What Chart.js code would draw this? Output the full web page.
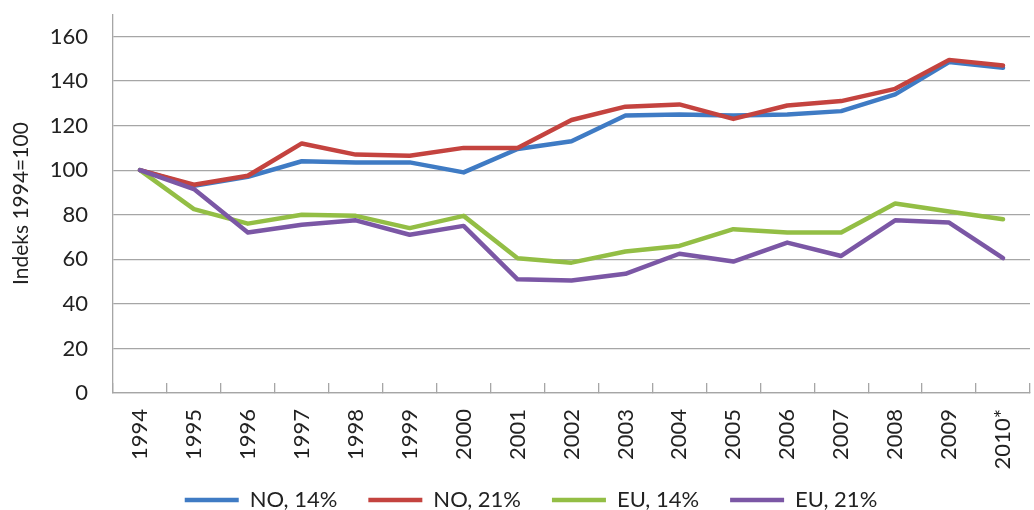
<!DOCTYPE html>
<html>
<head>
<meta charset="utf-8">
<script src="https://cdn.jsdelivr.net/npm/chart.js@4.4.1/dist/chart.umd.min.js"></script>
<style>
  html, body { margin: 0; padding: 0; background: #fff; }
  #wrap { width: 1034px; height: 510px; }
</style>
</head>
<body>
<div id="wrap"><canvas id="chart" width="1034" height="510"></canvas></div>
<script>
// categories and series (index, 1994 = 100)
const years = ["1994", "1995", "1996", "1997", "1998", "1999", "2000", "2001", "2002",
  "2003", "2004", "2005", "2006", "2007", "2008", "2009", "2010*"];
const no14 = [100, 93, 97, 104, 103.5, 103.5, 99, 109.5, 113, 124.5, 125, 124.5, 125, 126.5, 134, 148.5, 146];
const no21 = [100, 93.5, 97.5, 112, 107, 106.5, 110, 110, 122.5, 128.5, 129.5, 123, 129, 131, 136.5, 149.5, 147];
const eu14 = [100, 82.5, 76, 80, 79.5, 74, 79.5, 60.5, 58.5, 63.5, 66, 73.5, 72, 72, 85, 81.5, 78];
const eu21 = [100, 91.5, 72, 75.5, 77.5, 71, 75, 51, 50.5, 53.5, 62.5, 59, 67.5, 61.5, 77.5, 76.5, 60.5];
const seriesNames = ["NO, 14%", "NO, 21%", "EU, 14%", "EU, 21%"];
const seriesColors = ["#3f7bc4", "#c4433f", "#93be45", "#7b57a5"];
const yTicks = [0, 20, 40, 60, 80, 100, 120, 140, 160];

const FONT = "Lato, 'Open Sans', sans-serif";
const TEXT = "#222";
const GRID = "#a6a6a6";

const allSeries = [no14, no21, eu14, eu21];

const datasets = allSeries.map((values, i) => ({
  label: seriesNames[i],
  data: values,
  borderColor: seriesColors[i],
  backgroundColor: seriesColors[i],
  borderWidth: 4.5,
  pointRadius: 0,
  tension: 0,
  fill: false,
  order: allSeries.length - i, // later series drawn on top, like the original
  borderCapStyle: "round",
  borderJoinStyle: "round"
}));

// x labels hang past the axis box into the legend gap, so widen the clip area;
// also nudge the legend a bit right like in the original
const layoutTweaks = {
  id: "layoutTweaks",
  afterLayout(chart) {
    chart.scales.x.bottom = chart.height;
    chart.legend.left += 16;
    chart.legend.right += 16;
  }
};

new Chart(document.getElementById("chart"), {
  type: "line",
  data: { labels: years, datasets: datasets },
  plugins: [layoutTweaks],
  options: {
    responsive: false,
    animation: false,
    events: [],
    layout: { padding: { top: 14, right: 4, left: 0, bottom: -11 } },
    plugins: {
      tooltip: { enabled: false },
      legend: {
        position: "bottom",
        labels: {
          usePointStyle: true,
          pointStyle: "line",
          pointStyleWidth: 54,
          padding: 31,
          color: TEXT,
          font: { family: FONT, size: 22 },
          sort: (a, b) => a.datasetIndex - b.datasetIndex
        }
      }
    },
    scales: {
      x: {
        offset: true,
        grid: {
          offset: true,
          drawOnChartArea: false,
          drawTicks: true,
          tickLength: -10, // tick marks point up into the plot
          color: GRID,
          lineWidth: 1.3
        },
        border: { color: GRID, width: 1.3 },
        ticks: {
          minRotation: 90,
          maxRotation: 90,
          autoSkip: false,
          padding: 26,
          color: TEXT,
          font: { family: FONT, size: 22 }
        },
        afterFit: (scale) => {
          scale.height = 65;
          scale.paddingLeft = 0;
          scale.paddingRight = 0;
        }
      },
      y: {
        min: 0,
        max: 170,
        afterBuildTicks: (scale) => {
          scale.ticks = yTicks.concat([170]).map(v => ({ value: v }));
        },
        grid: {
          drawTicks: true,
          tickLength: 24,
          tickColor: "rgba(0,0,0,0)",
          color: (ctx) => (ctx.tick && ctx.tick.value === 170 ? "rgba(0,0,0,0)" : GRID),
          lineWidth: 1.3
        },
        border: { color: GRID, width: 1.3 },
        ticks: {
          padding: 1,
          color: TEXT,
          font: { family: FONT, size: 22 },
          callback: (v) => (v === 170 ? "" : v)
        },
        title: {
          display: true,
          text: "Indeks 1994=100",
          color: TEXT,
          font: { family: FONT, size: 21 },
          padding: { top: 9, bottom: 0 }
        },
        afterFit: (scale) => { scale.width = 113; }
      }
    }
  }
});
</script>
</body>
</html>
